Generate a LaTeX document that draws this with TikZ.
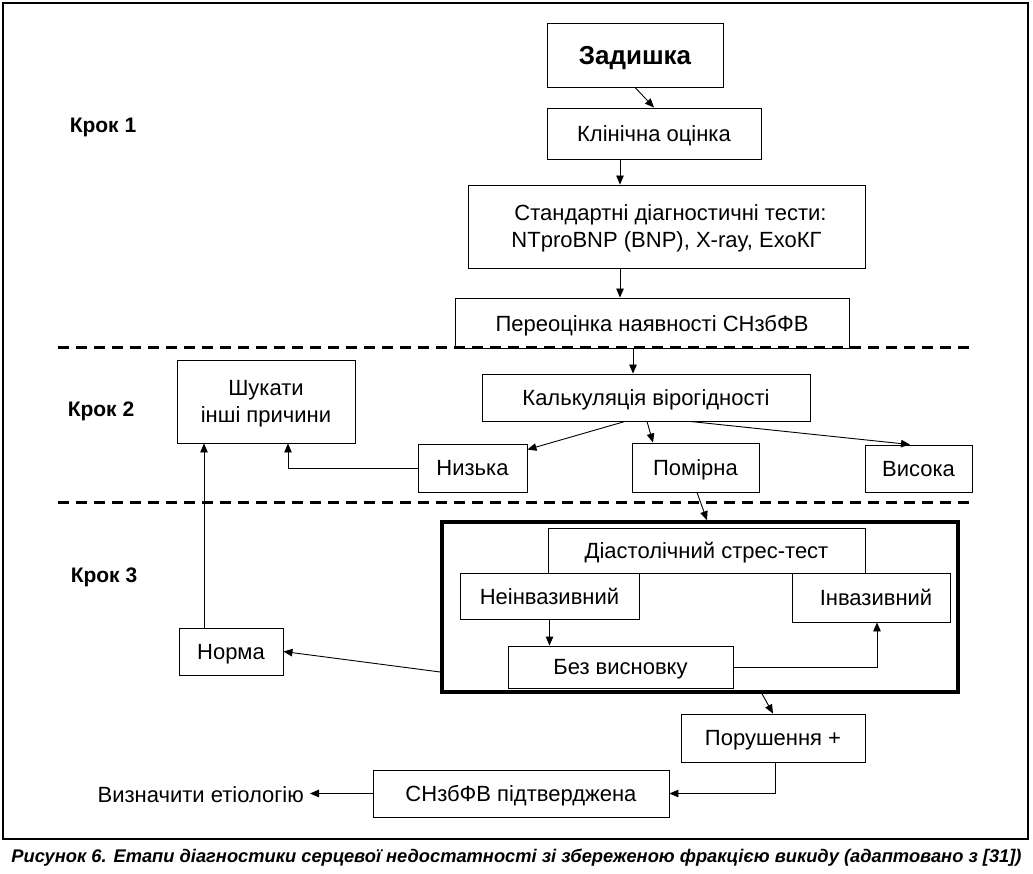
\documentclass[tikz,border=0pt]{standalone}
\usepackage{fontspec}
\setmainfont{Liberation Sans}
\usetikzlibrary{arrows.meta}
\begin{document}
\begin{tikzpicture}[x=1pt,y=-1pt,
  box/.style={draw, line width=0.9pt, inner sep=0pt, align=center, text depth=0pt, font=\fontsize{22}{27}\selectfont},
  arr/.style={line width=0.9pt, -{Triangle[length=9pt,width=7.5pt]}},
  sepline/.style={line width=3pt, dash pattern=on 11pt off 7pt},
  kroklbl/.style={font=\fontsize{21}{25}\selectfont\bfseries, inner sep=0pt},
  plain/.style={font=\fontsize{22}{26}\selectfont, inner sep=6pt}
]
\useasboundingbox (0,0) rectangle (1033,874);
% outer frame
\draw[line width=1.3pt] (3,3) rectangle (1028,839);

% step labels
\node[kroklbl] (k1) at (103,127) {Крок 1};
\node[kroklbl] (k2) at (101,411) {Крок 2};
\node[kroklbl] (k3) at (104,577) {Крок 3};

% boxes
\node[box, minimum width=176, minimum height=64, font=\fontsize{26}{30}\selectfont\bfseries] (zad) at (635,55) {Задишка};
\node[box, minimum width=214, minimum height=51] (klin) at (654,133.5) {Клінічна оцінка};
\node[box, minimum width=397, minimum height=83] (std) at (666.5,226.5) {\hspace*{8pt}Стандартні діагностичні тести:\\NTproBNP (BNP), X-ray, ЕхоКГ};
\node[box, minimum width=394, minimum height=50] (pere) at (652,323) {Переоцінка наявності СНзбФВ};
\node[box, minimum width=328, minimum height=47] (kalk) at (646,397.5) {Калькуляція вірогідності};
\node[box, minimum width=178, minimum height=83] (shuk) at (266,401.5) {Шукати\\інші причини};
\node[box, minimum width=109, minimum height=48] (nyz) at (472.5,468) {Низька};
\node[box, minimum width=127, minimum height=49] (pom) at (695.5,467.5) {Помірна};
\node[box, minimum width=107, minimum height=47] (vys) at (918.5,468.5) {Висока};

\node[draw, line width=3.5pt, minimum width=516, minimum height=170, inner sep=0pt] (big) at (700,607) {};
\node[box, minimum width=317, minimum height=45] (diast) at (706.5,550.5) {Діастолічний стрес-тест};
\node[box, minimum width=179, minimum height=46] (neinv) at (549.5,596) {Неінвазивний};
\node[box, minimum width=158, minimum height=49] (inv) at (871,597.5) {\hspace*{10pt}Інвазивний};
\node[box, minimum width=225, minimum height=42] (bez) at (620.5,667) {Без висновку};
\node[box, minimum width=104, minimum height=47] (norm) at (231,651.5) {Норма};
\node[box, minimum width=184, minimum height=48] (por) at (773,738) {Порушення +};
\node[box, minimum width=296, minimum height=47] (conf) at (521,793.5) {СНзбФВ підтверджена};
\node[plain, anchor=east] (vyzn) at (310,795) {Визначити етіологію};

% separators
\draw[sepline] (58,348) -- (970,348);
\draw[sepline] (58,502) -- (970,502);

% connectors
\draw[arr] (zad.south) -- (klin.north);
\draw[arr] ([xshift=-34pt]klin.south) -- ([xshift=-34pt]klin.south |- std.north);
\draw[arr] ([xshift=-46.5pt]std.south) -- ([xshift=-46.5pt]std.south |- pere.north);
\draw[arr] ([xshift=-19pt]pere.south) -- ([xshift=-19pt]pere.south |- kalk.north);
\draw[arr] ([xshift=-21pt]kalk.south) -- ([yshift=-6pt]nyz.north east);
\draw[arr] ([xshift=1pt]kalk.south) -- ([xshift=-42.5pt]pom.north);
\draw[arr] ([xshift=44pt]kalk.south) -- ([xshift=-8.5pt]vys.north);
\draw[arr] (nyz.west) -| ([xshift=22pt]shuk.south);
\draw[arr] ([xshift=1.5pt]pom.south) -- ([xshift=7pt]big.north);
\draw[arr] (neinv.south) -- (neinv.south |- bez.north);
\draw[arr] (bez.east) -| ([xshift=6pt]inv.south);
\draw[arr] ([yshift=-65pt]big.west) -- (norm.east);
\draw[arr] ([xshift=-27pt]norm.north) -- ([xshift=-27pt]norm.north |- shuk.south);
\draw[arr] ([xshift=62pt]big.south) -- (por.north);
\draw[arr] ([xshift=2pt]por.south) |- (conf.east);
\draw[arr] (conf.west) -- (conf.west -| vyzn.east);

% caption
\node[font=\fontsize{18.3}{22}\selectfont\bfseries\itshape, inner sep=0pt] (cap) at (516.5,858) {Рисунок 6. Етапи діагностики серцевої недостатності зі збереженою фракцією викиду (адаптовано з [31])};
\end{tikzpicture}
\end{document}
